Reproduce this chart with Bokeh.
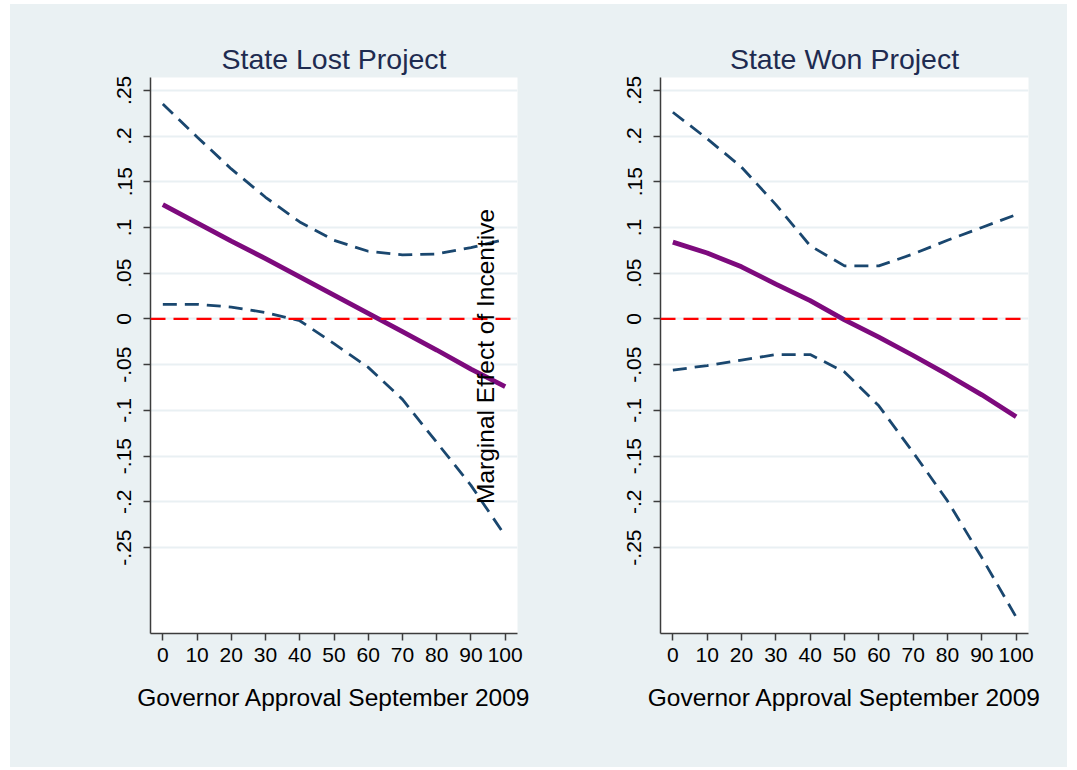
import math
from bokeh.plotting import figure
from bokeh.layouts import row
from bokeh.models import Range1d, FixedTicker, Span, Label
from bokeh.embed import file_html
from bokeh.resources import INLINE

# ---------------- data ----------------
approval = [0, 10, 20, 30, 40, 50, 60, 70, 80, 90, 100]

lost_effect = [0.125, 0.105, 0.085, 0.066, 0.046, 0.026, 0.006, -0.014, -0.034, -0.055, -0.074]
lost_upper = [0.235, 0.199, 0.164, 0.133, 0.106, 0.086, 0.074, 0.070, 0.071, 0.078, 0.087]
lost_lower = [0.016, 0.016, 0.013, 0.007, -0.002, -0.027, -0.053, -0.088, -0.135, -0.182, -0.237]

won_effect = [0.084, 0.072, 0.057, 0.038, 0.020, -0.001, -0.020, -0.040, -0.061, -0.083, -0.107]
won_upper = [0.226, 0.197, 0.166, 0.125, 0.080, 0.058, 0.058, 0.071, 0.086, 0.100, 0.114]
won_lower = [-0.056, -0.051, -0.045, -0.039, -0.039, -0.058, -0.095, -0.146, -0.199, -0.261, -0.326]

panel_titles = ["State Lost Project", "State Won Project"]
x_title = "Governor Approval September 2009"
y_title = "Marginal Effect of Incentive"

x_ticks = [0, 10, 20, 30, 40, 50, 60, 70, 80, 90, 100]
y_ticks = [-0.25, -0.2, -0.15, -0.1, -0.05, 0, 0.05, 0.1, 0.15, 0.2, 0.25]
y_tick_labels = ["-.25", "-.2", "-.15", "-.1", "-.05", "0", ".05", ".1", ".15", ".2", ".25"]

# ---------------- style ----------------
FONT = "Liberation Sans"
BG = "#EAF1F3"
GRID = "#E9F0F3"
TITLE_COLOR = "#1E2B50"
ME_COLOR = "#7D0A7D"
CI_COLOR = "#1A476F"
AXIS_COLOR = "#3C3C3C"


def make_panel(title, effect, upper, lower, w, bl, br):
    p = figure(width=w, height=763, output_backend="svg", toolbar_location=None,
               x_range=Range1d(-3.6, 103.6), y_range=Range1d(-0.344, 0.264),
               min_border_left=bl, min_border_right=br, min_border_top=73,
               min_border_bottom=134, title=title)
    p.background_fill_color = "white"
    p.border_fill_color = BG
    p.outline_line_color = None

    p.title.text_font = FONT
    p.title.text_font_size = "28.5px"
    p.title.text_font_style = "normal"
    p.title.text_color = TITLE_COLOR
    p.title.align = "center"
    p.title.standoff = 6

    # axes
    p.xaxis.ticker = FixedTicker(ticks=x_ticks)
    p.yaxis.ticker = FixedTicker(ticks=y_ticks)
    p.yaxis.major_label_overrides = {t: s for t, s in zip(y_ticks, y_tick_labels)}
    for ax in (p.xaxis[0], p.yaxis[0]):
        ax.axis_line_color = AXIS_COLOR
        ax.axis_line_width = 1.5
        ax.major_tick_line_color = AXIS_COLOR
        ax.major_tick_line_width = 1.5
        ax.major_tick_out = 7
        ax.major_tick_in = 0
        ax.minor_tick_out = 0
        ax.minor_tick_in = 0
        ax.major_label_text_font = FONT
        ax.major_label_text_font_size = "21px"
        ax.major_label_text_color = "black"
    p.yaxis.major_label_orientation = "vertical"
    p.yaxis.major_label_standoff = 12
    p.xaxis.major_label_standoff = 7
    p.xaxis.axis_label = x_title
    p.xaxis.axis_label_text_font = FONT
    p.xaxis.axis_label_text_font_size = "24.5px"
    p.xaxis.axis_label_text_font_style = "normal"
    p.xaxis.axis_label_text_color = "black"
    p.xaxis.axis_label_standoff = 19

    p.xgrid.visible = False
    p.ygrid.ticker = FixedTicker(ticks=y_ticks)
    p.ygrid.grid_line_color = GRID
    p.ygrid.grid_line_width = 2

    # reference line at zero
    p.add_layout(Span(location=0, dimension="width", line_color="#FF0000",
                      line_width=2.3, line_dash="15 8"))

    p.line(approval, upper, line_color=CI_COLOR, line_width=2.8, line_dash="14 8")
    p.line(approval, lower, line_color=CI_COLOR, line_width=2.8, line_dash="14 8")
    p.line(approval, effect, line_color=ME_COLOR, line_width=4.8)
    return p


p1 = make_panel(panel_titles[0], lost_effect, lost_upper, lost_lower, 528, 140, 21)
p2 = make_panel(panel_titles[1], won_effect, won_upper, won_lower, 529, 122, 39)

p1.add_layout(Label(x=94.3, y=-0.041, text=y_title, angle=math.pi / 2,
                    text_align="center", text_baseline="middle",
                    text_font=FONT, text_font_size="24.5px", text_color="black"))

layout = row(p1, p2, margin=(4, 0, 0, 10), styles={"background-color": BG})

open("out.html", "w").write(file_html(layout, INLINE))
